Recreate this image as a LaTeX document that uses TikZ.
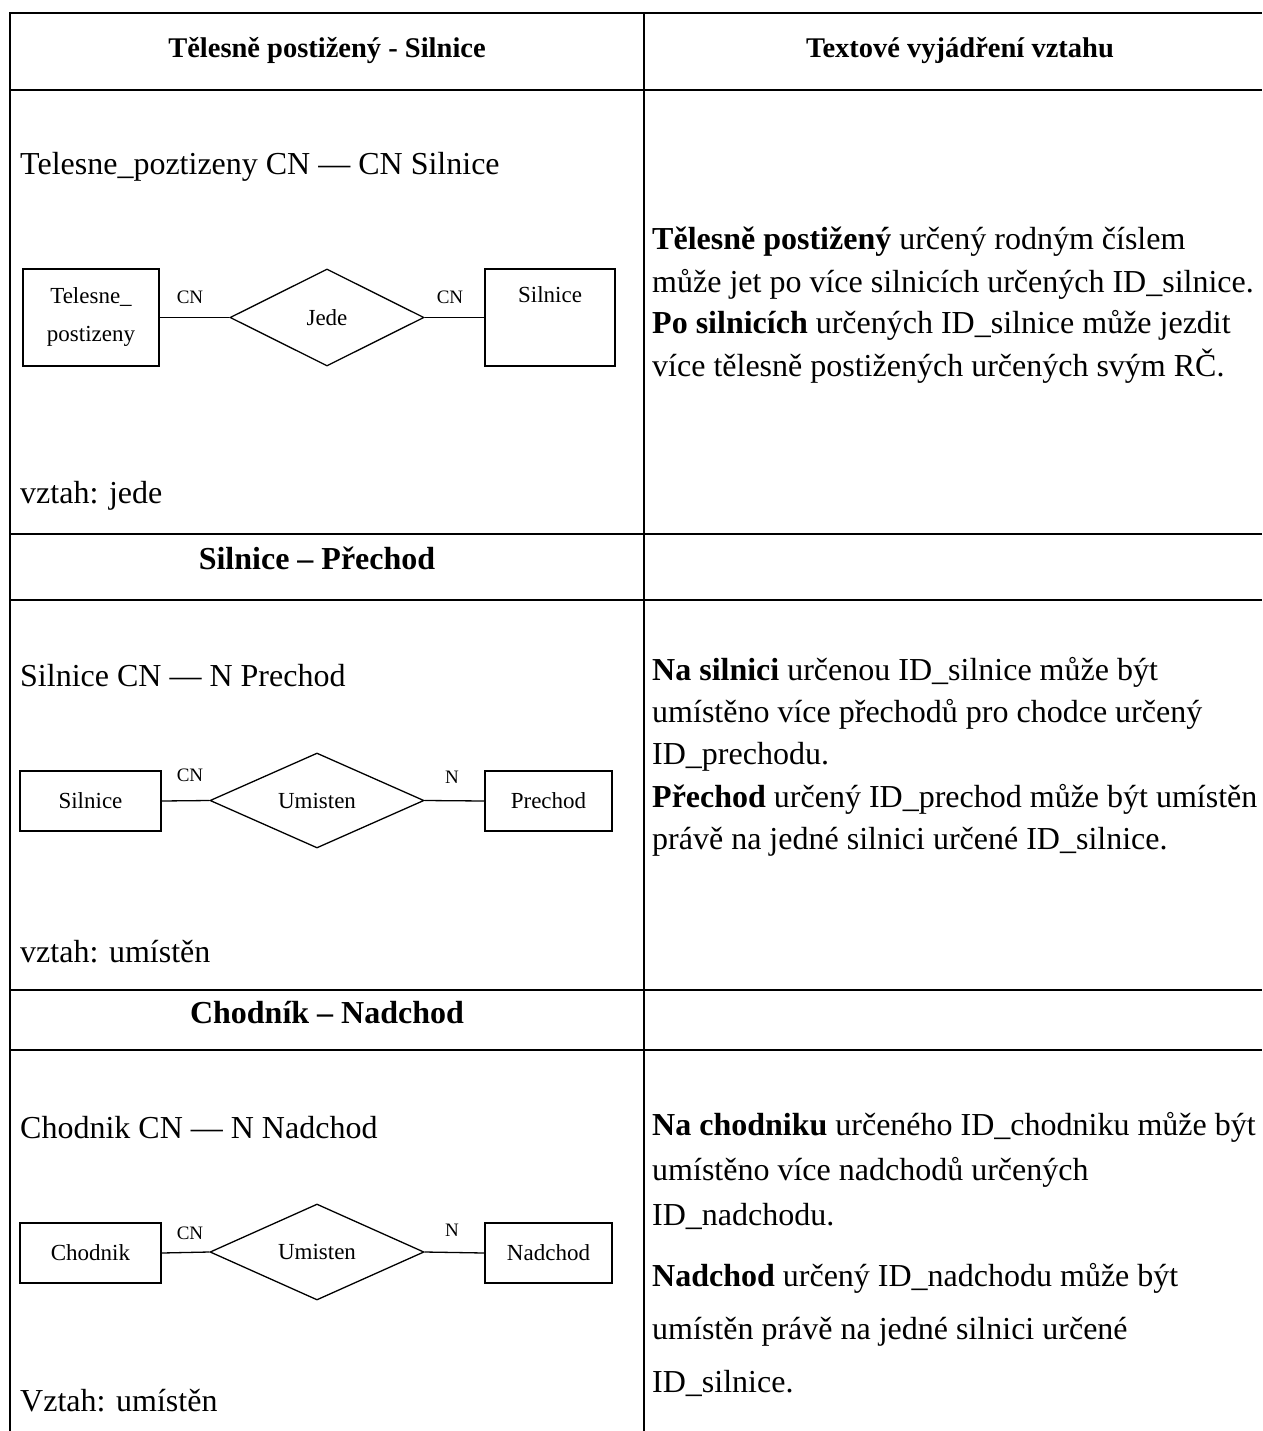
\documentclass[tikz,border=0pt]{standalone}
\usepackage{fontspec}
\setmainfont{Liberation Serif}
\usetikzlibrary{shapes.geometric}
\tikzset{
 gridline/.style={line width=1.6pt},
 body/.style={inner sep=0pt, anchor=base west, font=\fontsize{32}{38}\selectfont},
 hdr/.style={inner sep=0pt, anchor=base, font=\fontsize{28.5}{34}\selectfont\bfseries},
 sechdr/.style={inner sep=0pt, anchor=base, font=\fontsize{32}{38}\selectfont\bfseries},
 erbox/.style={draw, line width=1.3pt, rectangle, inner sep=0pt, align=center, font=\fontsize{23}{38}\selectfont},
 errel/.style={draw, line width=1.3pt, diamond, inner sep=0pt, font=\fontsize{23}{28}\selectfont},
 ertext/.style={inner sep=0pt, font=\fontsize{23}{28}\selectfont},
 card/.style={inner sep=0pt, font=\fontsize{19}{22}\selectfont},
 erline/.style={line width=1.3pt},
}
\begin{document}
\begin{tikzpicture}[x=1pt,y=-1pt]
\useasboundingbox (0,0) rectangle (1262,1431);
% table grid
\coordinate (tl) at (10,13);
\coordinate (tr) at (1262,13);
\coordinate (bl) at (10,1431);
\coordinate (cm) at (644,13);
\coordinate (cb) at (644,1431);
\draw[gridline] (bl) -- (tl) -- (tr);
\draw[gridline] (cm) -- (cb);
\foreach \yy in {90,534,600,990,1050}{
  \draw[gridline] (10,\yy) -- (1262,\yy);
}
% headers
\node[hdr] (h1) at (327,58) {Tělesně postižený - Silnice};
\node[hdr] (h2) at (960,58) {Textové vyjádření vztahu};
\node[sechdr] (h3) at (317,569) {Silnice – Přechod};
\node[sechdr] (h4) at (327,1023) {Chodník – Nadchod};

% ---------- row 1 ----------
\node[body] (l1a) at (20,175) {Telesne\_poztizeny CN — CN Silnice};
\node[body] (l1b) at (20,503) {vztah: jede};

\node[erbox, minimum width=136pt, minimum height=97pt] (tp) at (91,317.5) {Telesne\_\\postizeny};
\node[errel, minimum width=194pt, minimum height=97pt] (jede) at (327,317.5) {Jede};
\node[draw, line width=1.3pt, rectangle, inner sep=0pt, minimum width=130pt, minimum height=97pt] (sil1) at (550,317.5) {};
\node[ertext] (sil1t) at (550,295) {Silnice};
\draw[erline] (tp.east) -- (jede.west);
\draw[erline] (jede.east) -- (sil1.west);
\node[card] (c1a) at (190,297) {CN};
\node[card] (c1b) at (450,297) {CN};

\node[body] (r1a) at (652,250) {\textbf{Tělesně postižený} určený rodným číslem};
\node[body] (r1b) at (652,292) {může jet po více silnicích určených ID\_silnice.};
\node[body] (r1c) at (652,333) {\textbf{Po silnicích} určených ID\_silnice může jezdit};
\node[body] (r1d) at (652,376) {více tělesně postižených určených svým RČ.};

% ---------- row 2 ----------
\node[body] (l2a) at (20,686) {Silnice CN — N Prechod};
\node[body] (l2b) at (20,962) {vztah: umístěn};

\node[erbox, minimum width=141pt, minimum height=60pt] (sil2) at (90.5,801) {Silnice};
\node[errel, minimum width=214pt, minimum height=95pt] (um2) at (317,800.5) {Umisten};
\node[erbox, minimum width=127pt, minimum height=60pt] (pre) at (548.5,801) {Prechod};
\draw[erline] (sil2.east) -- (um2.west);
\draw[erline] (um2.east) -- (pre.west);
\node[card] (c2a) at (190,775) {CN};
\node[card] (c2b) at (452,777) {N};

\node[body] (r2a) at (652,680) {\textbf{Na silnici} určenou ID\_silnice může být};
\node[body] (r2b) at (652,722) {umístěno více přechodů pro chodce určený};
\node[body] (r2c) at (652,764) {ID\_prechodu.};
\node[body] (r2d) at (652,807) {\textbf{Přechod} určený ID\_prechod může být umístěn};
\node[body] (r2e) at (652,849) {právě na jedné silnici určené ID\_silnice.};

% ---------- row 3 ----------
\node[body] (l3a) at (20,1138) {Chodnik CN — N Nadchod};
\node[body] (l3b) at (20,1411) {Vztah: umístěn};

\node[erbox, minimum width=141pt, minimum height=60pt] (cho) at (90.5,1253) {Chodnik};
\node[errel, minimum width=214pt, minimum height=96pt] (um3) at (317,1252) {Umisten};
\node[erbox, minimum width=127pt, minimum height=60pt] (nad) at (548.5,1253) {Nadchod};
\draw[erline] (cho.east) -- (um3.west);
\draw[erline] (um3.east) -- (nad.west);
\node[card] (c3a) at (190,1233) {CN};
\node[card] (c3b) at (452,1230) {N};

\node[body] (r3a) at (652,1135) {\textbf{Na chodniku} určeného ID\_chodniku může být};
\node[body] (r3b) at (652,1180) {umístěno více nadchodů určených};
\node[body] (r3c) at (652,1225) {ID\_nadchodu.};
\node[body] (r3d) at (652,1286) {\textbf{Nadchod} určený ID\_nadchodu může být};
\node[body] (r3e) at (652,1339) {umístěn právě na jedné silnici určené};
\node[body] (r3f) at (652,1392) {ID\_silnice.};
\end{tikzpicture}
\end{document}
